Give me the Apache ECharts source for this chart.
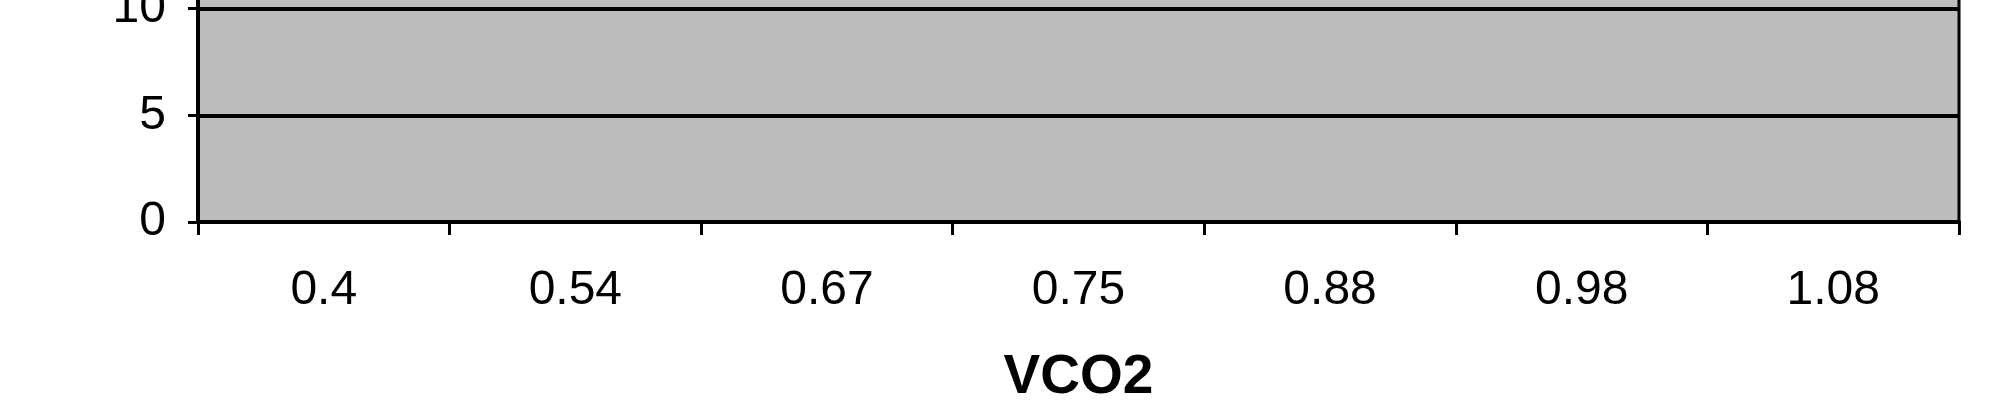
<!DOCTYPE html>
<html>
<head>
<meta charset="utf-8">
<style>
	html, body { margin: 0; padding: 0; background: #fff; overflow: hidden; width: 2000px; height: 413px; }
	/* 原图上半部被裁掉：图表容器向上偏移 */
	#chart { position: absolute; left: 0; top: -122px; width: 2000px; height: 535px; }
</style>
<script src="https://cdn.jsdelivr.net/npm/echarts@6/dist/echarts.min.js"></script>
</head>
<body>
<div id="chart"></div>
<script>
//类目（VCO2）
var categories = ['0.4', '0.54', '0.67', '0.75', '0.88', '0.98', '1.08'];
//纵轴刻度
var yMin = 0, yMax = 15, yStep = 5;

var font = '"Liberation Sans", Arial, sans-serif';

var chart = echarts.init(document.getElementById('chart'));

chart.setOption({
	animation: false,
	grid: {
		left: 198,
		right: 41,
		top: 20,
		bottom: 191,
		show: true,
		backgroundColor: '#bcbcbc',
		borderColor: '#000',
		borderWidth: 3
	},
	xAxis: {
		type: 'category',
		data: categories,
		boundaryGap: true,
		name: 'VCO2',
		nameLocation: 'middle',
		nameGap: 128,
		nameTextStyle: { color: '#000', fontFamily: font, fontSize: 55, fontWeight: 'bold' },
		axisLine: { lineStyle: { color: '#000', width: 4 } },
		axisTick: { show: true, inside: false, length: 13, lineStyle: { color: '#000', width: 3 } },
		axisLabel: { color: '#000', fontFamily: font, fontSize: 48, margin: 45 },
		splitLine: { show: false }
	},
	yAxis: {
		type: 'value',
		min: yMin,
		max: yMax,
		interval: yStep,
		axisLine: { show: true, lineStyle: { color: '#000', width: 4 } },
		axisTick: { show: true, inside: false, length: 10, lineStyle: { color: '#000', width: 3 } },
		axisLabel: { color: '#000', fontFamily: font, fontSize: 48, margin: 32 },
		splitLine: { show: true, lineStyle: { color: '#000', width: 4 } }
	},
	series: []
});
</script>
</body>
</html>
